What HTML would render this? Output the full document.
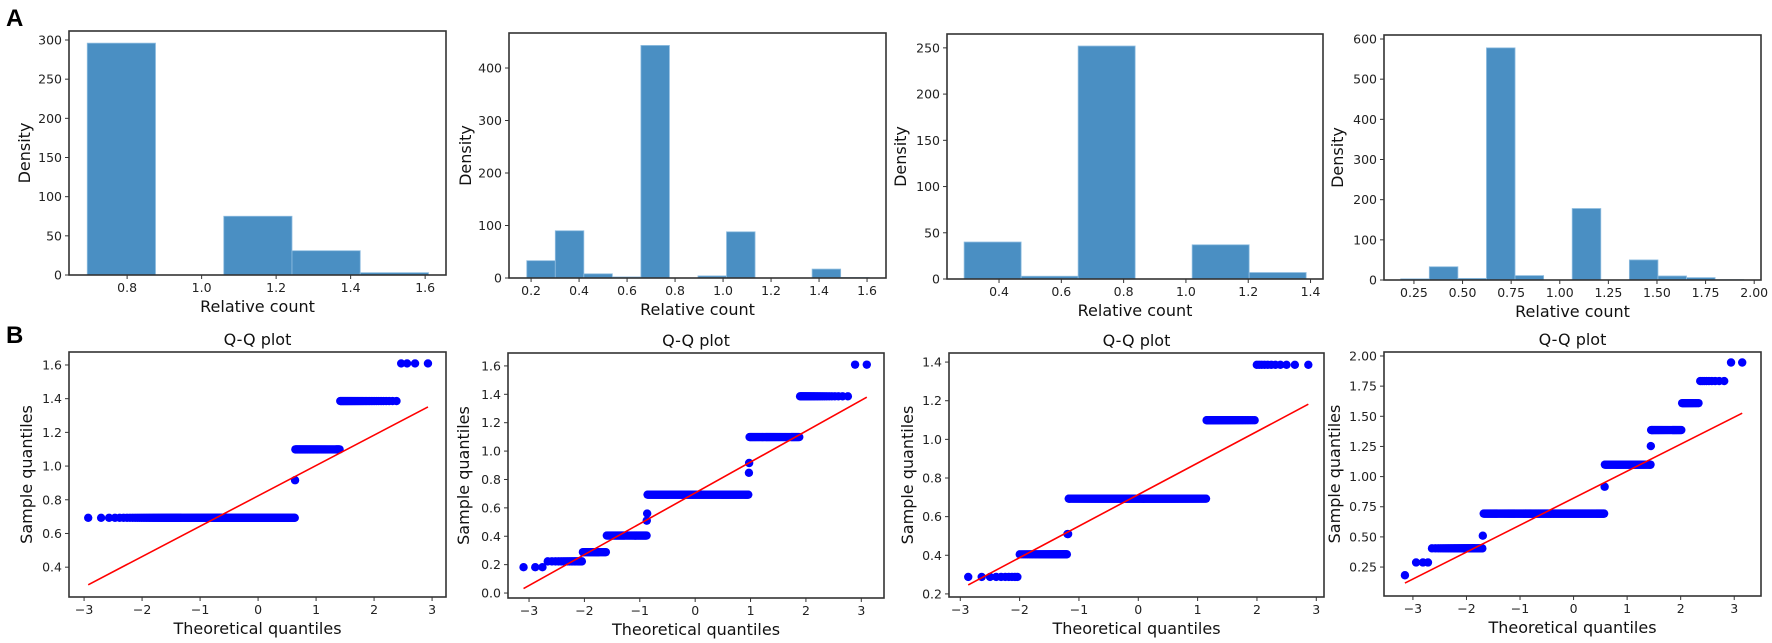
<!DOCTYPE html>
<html><head><meta charset="utf-8"><style>
html,body{margin:0;padding:0;background:#fff;}
svg{display:block;font-family:"DejaVu Sans","Liberation Sans",sans-serif;}
</style></head>
<body>
<svg id="fig" width="1772" height="643" viewBox="0 0 1772 643" xmlns="http://www.w3.org/2000/svg">
<text x="6" y="26" font-size="24" font-weight="bold" font-family="Liberation Sans, sans-serif">A</text>
<text x="6" y="343" font-size="24" font-weight="bold" font-family="Liberation Sans, sans-serif">B</text>
</svg>
<script>
// ---- Histogram data (row A) ----
const hist1Heights = [296, 0, 75, 31, 3];
const hist1Range = [0.693, 1.609];
const hist2Heights = [33, 90, 8, 2, 443, 0, 4, 88, 0, 0, 17, 1];
const hist2Range = [0.182, 1.609];
const hist3Heights = [40, 3, 252, 0, 37, 7];
const hist3Range = [0.288, 1.386];
const hist4Heights = [3, 33, 4, 578, 11, 0, 178, 0, 50, 10, 6, 1];
const hist4Range = [0.182, 1.946];
const hist1XTicks = ["0.8","1.0","1.2","1.4","1.6"];
const hist1YTicks = ["0","50","100","150","200","250","300"];
const hist2XTicks = ["0.2","0.4","0.6","0.8","1.0","1.2","1.4","1.6"];
const hist2YTicks = ["0","100","200","300","400"];
const hist3XTicks = ["0.4","0.6","0.8","1.0","1.2","1.4"];
const hist3YTicks = ["0","50","100","150","200","250"];
const hist4XTicks = ["0.25","0.50","0.75","1.00","1.25","1.50","1.75","2.00"];
const hist4YTicks = ["0","100","200","300","400","500","600"];
// ---- Q-Q data (row B): sample levels and counts ----
const qq1Levels = [0.693, 0.916, 1.099, 1.386, 1.609];
const qq1Counts = [433, 1, 107, 42, 4];
const qq2Levels = [0.182, 0.223, 0.288, 0.405, 0.51, 0.56, 0.693, 0.847, 0.916, 1.099, 1.386, 1.609];
const qq2Counts = [3, 18, 35, 140, 2, 2, 659, 1, 2, 138, 28, 2];
const qq3Levels = [0.288, 0.405, 0.51, 0.693, 1.099, 1.386];
const qq3Counts = [10, 45, 2, 363, 49, 11];
const qq4Levels = [0.182, 0.288, 0.405, 0.51, 0.693, 0.916, 1.099, 1.253, 1.386, 1.609, 1.792, 1.946];
const qq4Counts = [1, 3, 50, 2, 821, 2, 250, 1, 64, 15, 9, 2];
const qqXTicks = ["-3","-2","-1","0","1","2","3"];
const qq1YTicks = ["0.4","0.6","0.8","1.0","1.2","1.4","1.6"];
const qq2YTicks = ["0.0","0.2","0.4","0.6","0.8","1.0","1.2","1.4","1.6"];
const qq3YTicks = ["0.2","0.4","0.6","0.8","1.0","1.2","1.4"];
const qq4YTicks = ["0.25","0.50","0.75","1.00","1.25","1.50","1.75","2.00"];

const NS = "http://www.w3.org/2000/svg";
const svg = document.getElementById("fig");
function mk(tag, attrs, parent){ const e=document.createElementNS(NS,tag); for(const k in attrs) e.setAttribute(k,attrs[k]); (parent||svg).appendChild(e); return e; }

function invNorm(p){
  const a=[-39.69683028665376,220.9460984245205,-275.9285104469687,138.3577518672690,-30.66479806614716,2.506628277459239];
  const b=[-54.47609879822406,161.5858368580409,-155.6989798598866,66.80131188771972,-13.28068155288572];
  const c=[-0.007784894002430293,-0.3223964580411365,-2.400758277161838,-2.549732539343734,4.374664141464968,2.938163982698783];
  const d=[0.007784695709041462,0.3224671290700398,2.445134137142996,3.754408661907416];
  const pl=0.02425; let q,r;
  if(p<pl){q=Math.sqrt(-2*Math.log(p));return (((((c[0]*q+c[1])*q+c[2])*q+c[3])*q+c[4])*q+c[5])/((((d[0]*q+d[1])*q+d[2])*q+d[3])*q+1);}
  if(p>1-pl){q=Math.sqrt(-2*Math.log(1-p));return -(((((c[0]*q+c[1])*q+c[2])*q+c[3])*q+c[4])*q+c[5])/((((d[0]*q+d[1])*q+d[2])*q+d[3])*q+1);}
  q=p-0.5;r=q*q;return (((((a[0]*r+a[1])*r+a[2])*r+a[3])*r+a[4])*r+a[5])*q/(((((b[0]*r+b[1])*r+b[2])*r+b[3])*r+b[4])*r+1);
}

function axes(P, name){
  const g = mk("g", {});
  
  
  P.sx = v => P.l + (v-P.x0)/(P.x1-P.x0)*(P.r-P.l);
  P.sy = v => P.b - (v-P.y0)/(P.y1-P.y0)*(P.b-P.t);
  P.g = g;
  return g;
}
function frameAndTicks(P, xt, yt, xlab, ylab, title){
  const g=P.g;
  const fr = mk("rect",{x:P.l,y:P.t,width:P.r-P.l,height:P.b-P.t,fill:"none",stroke:"#333","stroke-width":1.6},g);
  
  
  xt.forEach(s=>{ const v=parseFloat(s.replace("-","-")); const x=P.sx(v);
    mk("line",{x1:x,x2:x,y1:P.b,y2:P.b+4,stroke:"#333","stroke-width":1},g);
    const t=mk("text",{x:x,y:P.b+17,"font-size":12.5,"text-anchor":"middle",fill:"#222"},g);
    t.textContent = s.startsWith("-")? "\u2212"+s.slice(1) : s;
    
    
  });
  yt.forEach(s=>{ const v=parseFloat(s); const y=P.sy(v);
    mk("line",{x1:P.l-4,x2:P.l,y1:y,y2:y,stroke:"#333","stroke-width":1},g);
    const t=mk("text",{x:P.l-7,y:y+4.5,"font-size":12.5,"text-anchor":"end",fill:"#222"},g);
    t.textContent=s;
    
    
  });
  const cx=(P.l+P.r)/2;
  const xl=mk("text",{x:cx,y:P.b+37,"font-size":16,"text-anchor":"middle",fill:"#111"},g);
  xl.textContent=xlab;
  
  
  const cy=(P.t+P.b)/2, yx=P.ylx;
  const yl=mk("text",{x:yx,y:cy,"font-size":16,"text-anchor":"middle",fill:"#111",transform:`rotate(-90 ${yx} ${cy})`},g);
  yl.textContent=ylab;
  
  
  if(title){
    const tt=mk("text",{x:cx,y:P.t-7,"font-size":16,"text-anchor":"middle",fill:"#111"},g);
    tt.textContent=title;
    
    
  }
}
function drawHist(P, heights, range, xt, yt, name){
  axes(P,name);
  const w=(range[1]-range[0])/heights.length;
  heights.forEach((h,i)=>{
    const a=range[0]+i*w, bb=a+w;
    const x1=P.sx(a), x2=P.sx(bb), y=P.sy(h);
    const r=mk("rect",{x:x1,y:y,width:x2-x1,height:Math.max(P.b-y,0.01),fill:"#4a8fc3",stroke:"#8fbde0","stroke-width":0.8},P.g);
    
    
  });
  frameAndTicks(P,xt,yt,"Relative count","Density",null);
}
function drawQQ(P, levels, counts, yt, name){
  axes(P,name);
  const data=[]; levels.forEach((v,i)=>{for(let k=0;k<counts[i];k++) data.push(v);});
  const n=data.length; const xs=data.map((_,i)=>invNorm((i+1)/(n+1)));
  const mx=xs.reduce((s,v)=>s+v,0)/n, my=data.reduce((s,v)=>s+v,0)/n;
  let sxy=0,sxx=0; xs.forEach((x,i)=>{sxy+=(x-mx)*(data[i]-my);sxx+=(x-mx)*(x-mx);});
  const slope=sxy/sxx, icpt=my-slope*mx;
  const pg=mk("g",{fill:"#0000ff"},P.g);
  
  
  let last=-1e9;
  xs.forEach((x,i)=>{ const px=P.sx(x); if(i>0 && data[i]===data[i-1] && px-last<0.6) return; last=px;
    const c=mk("circle",{cx:px,cy:P.sy(data[i]),r:4.2},pg);
    
    
  });
  const ln=mk("line",{x1:P.sx(xs[0]),y1:P.sy(icpt+slope*xs[0]),x2:P.sx(xs[n-1]),y2:P.sy(icpt+slope*xs[n-1]),stroke:"#ff0000","stroke-width":1.6},P.g);
  
  
  frameAndTicks(P,qqXTicks,yt,"Theoretical quantiles","Sample quantiles","Q-Q plot");
}

drawHist({l:69,r:446,t:31,b:275,x0:0.644,x1:1.656,y0:0,y1:311.5,ylx:30}, hist1Heights, hist1Range, hist1XTicks, hist1YTicks, "histogram-1");
drawHist({l:509,r:886,t:33,b:278,x0:0.108,x1:1.679,y0:0,y1:466.7,ylx:471}, hist2Heights, hist2Range, hist2XTicks, hist2YTicks, "histogram-2");
drawHist({l:947,r:1323,t:34,b:279,x0:0.233,x1:1.440,y0:0,y1:265,ylx:906}, hist3Heights, hist3Range, hist3XTicks, hist3YTicks, "histogram-3");
drawHist({l:1384,r:1761,t:35,b:280,x0:0.096,x1:2.035,y0:0,y1:610,ylx:1343}, hist4Heights, hist4Range, hist4XTicks, hist4YTicks, "histogram-4");

drawQQ({l:69,r:446,t:352,b:597,x0:-3.26,x1:3.24,y0:0.223,y1:1.677,ylx:32}, qq1Levels, qq1Counts, qq1YTicks, "qq-plot-1");
drawQQ({l:508,r:884,t:353,b:598,x0:-3.38,x1:3.41,y0:-0.035,y1:1.691,ylx:469}, qq2Levels, qq2Counts, qq2YTicks, "qq-plot-2");
drawQQ({l:949,r:1324,t:353,b:597,x0:-3.19,x1:3.13,y0:0.184,y1:1.447,ylx:913}, qq3Levels, qq3Counts, qq3YTicks, "qq-plot-3");
drawQQ({l:1384,r:1761,t:352,b:596,x0:-3.54,x1:3.5,y0:0.01,y1:2.033,ylx:1340}, qq4Levels, qq4Counts, qq4YTicks, "qq-plot-4");
</script>
</body></html>
